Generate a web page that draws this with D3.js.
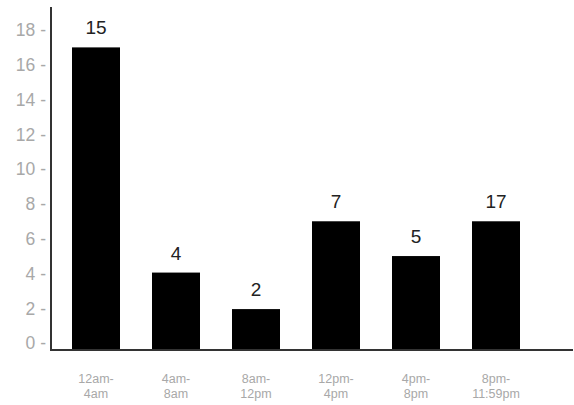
<!DOCTYPE html>
<html><head><meta charset="utf-8">
<script src="https://cdn.jsdelivr.net/npm/d3@7"></script>
<style>body{margin:0;background:#fff}svg{display:block}</style>
</head><body>
<svg id="c" width="574" height="405"></svg>
<script>
const categories = [["12am-","4am"],["4am-","8am"],["8am-","12pm"],["12pm-","4pm"],["4pm-","8pm"],["8pm-","11:59pm"]];
const values = [17, 4.05, 1.95, 7, 5, 7];
const labels = ["15","4","2","7","5","17"];
const yTicks = [0,2,4,6,8,10,12,14,16,18];

const svg = d3.select("#c");
const font = "'Liberation Sans', Arial, sans-serif";
const x = d3.scaleBand().domain(d3.range(categories.length)).range([40,552]).paddingInner(0.4).paddingOuter(0.4);
const y = d3.scaleLinear().domain([0,18]).range([343,30]);
const baseY = 350;

// bars
svg.selectAll("rect.bar").data(values).enter().append("rect")
  .attr("x",(d,i)=>x(i)).attr("width",x.bandwidth())
  .attr("y",d=>y(d)).attr("height",d=>baseY-y(d)).attr("fill","#000");

// value labels
svg.selectAll("text.val").data(values).enter().append("text")
  .attr("x",(d,i)=>x(i)+x.bandwidth()/2).attr("y",d=>y(d)-13)
  .attr("text-anchor","middle").attr("font-family",font).attr("font-size",19)
  .attr("fill","#222").text((d,i)=>labels[i]);

// y tick labels
svg.selectAll("text.yt").data(yTicks).enter().append("text")
  .attr("x",46).attr("y",d=>y(d)).attr("dy","0.36em")
  .attr("text-anchor","end").attr("font-family",font).attr("font-size",17.5)
  .attr("fill","#a8a8a8").text(d=>d+" -");

// axes lines
svg.append("line").attr("x1",51).attr("x2",51).attr("y1",7).attr("y2",351).attr("stroke","#333").attr("stroke-width",2);
svg.append("line").attr("x1",50).attr("x2",573).attr("y1",350).attr("y2",350).attr("stroke","#333").attr("stroke-width",2);

// x labels
const xl = svg.selectAll("text.xl").data(categories).enter().append("text")
  .attr("x",(d,i)=>x(i)+x.bandwidth()/2).attr("y",383)
  .attr("text-anchor","middle").attr("font-family",font).attr("font-size",12.5).attr("fill","#a8a8a8");
xl.append("tspan").attr("x",(d,i)=>x(i)+x.bandwidth()/2).text(d=>d[0]);
xl.append("tspan").attr("x",(d,i)=>x(i)+x.bandwidth()/2).attr("dy",15).text(d=>d[1]);
</script>
</body></html>
